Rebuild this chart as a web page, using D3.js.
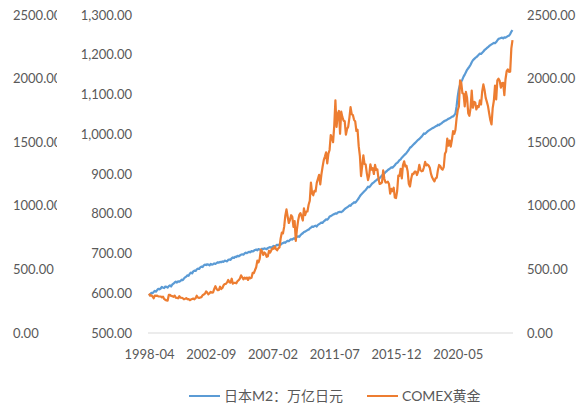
<!DOCTYPE html>
<html>
<head>
<meta charset="utf-8">
<script src="https://cdn.jsdelivr.net/npm/d3@7"></script>
<style>
  body { margin: 0; background: #fff; }
  text { font-family: Lato, "Noto Sans CJK SC", sans-serif; fill: #595959; font-size: 13px; }
</style>
</head>
<body>
<div class="chart"></div>
<script>
// categories: monthly, 1998-04 .. 2024-04
const months = d3.timeMonth.range(new Date(1998, 3, 1), new Date(2024, 4, 1)).map(d3.timeFormat("%Y-%m"));
const xTickLabels = ["1998-04", "2002-09", "2007-02", "2011-07", "2015-12", "2020-05"];
const m2Ticks = [500, 600, 700, 800, 900, 1000, 1100, 1200, 1300];
const goldTicks = [0, 500, 1000, 1500, 2000, 2500];
const seriesNames = ["日本M2：万亿日元", "COMEX黄金"];

// Japan M2, trillion yen
const m2 = [
  594, 597, 601, 600, 603, 606, 604, 608, 611,
  610, 612, 616, 614, 613, 617, 616, 614, 618, 620, 617, 622,
  624, 627, 629, 627, 630, 629, 631, 634, 633, 637, 640, 642,
  645, 644, 649, 652, 650, 655, 657, 656, 660, 662, 661, 665,
  667, 666, 670, 672, 671, 673, 672, 670, 674, 672, 673, 675,
  674, 676, 678, 677, 679, 678, 680, 679, 682, 681, 680, 684,
  685, 684, 688, 690, 689, 692, 691, 694, 693, 695, 697, 698,
  697, 700, 702, 701, 703, 704, 703, 706, 705, 707, 709, 710,
  708, 711, 710, 709, 712, 711, 713, 712, 711, 714, 715, 716,
  714, 717, 719, 718, 720, 722, 721, 723, 722, 725, 726, 728,
  727, 730, 732, 731, 734, 736, 735, 738, 737, 740, 742, 743,
  742, 746, 749, 751, 754, 755, 757, 759, 760, 763, 765, 768,
  767, 769, 770, 768, 772, 774, 776, 778, 777, 781, 783, 786,
  785, 788, 793, 794, 796, 798, 799, 801, 800, 803, 804, 805,
  804, 806, 809, 812, 814, 816, 818, 821, 820, 824, 826, 829,
  828, 831, 835, 839, 844, 848, 851, 854, 857, 860, 864, 868,
  867, 870, 874, 877, 879, 882, 884, 887, 886, 890, 893, 897,
  898, 901, 905, 907, 910, 912, 914, 917, 916, 919, 922, 926,
  928, 931, 935, 937, 941, 944, 947, 950, 953, 957, 961, 966,
  968, 971, 974, 977, 980, 983, 986, 988, 991, 994, 998, 1002,
  1001, 1004, 1007, 1009, 1011, 1013, 1015, 1016, 1018, 1020, 1021, 1024,
  1023, 1026, 1027, 1030, 1032, 1034, 1035, 1037, 1039, 1040, 1042, 1044,
  1045, 1048, 1052, 1070, 1095, 1114, 1125, 1132, 1138, 1145, 1150, 1156,
  1162, 1166, 1170, 1175, 1181, 1186, 1189, 1192, 1194, 1197, 1200, 1203,
  1202, 1205, 1208, 1212, 1214, 1217, 1219, 1222, 1224, 1226, 1228, 1230,
  1229, 1232, 1236, 1240, 1241, 1242, 1243, 1241, 1244, 1243, 1245, 1247,
  1248, 1252, 1258, 1262
];

// COMEX gold, USD/oz
const gold = [
  309, 294, 296, 288, 273, 294, 292, 294, 288,
  287, 287, 280, 286, 268, 261, 256, 255, 299, 300, 292, 290,
  284, 294, 277, 276, 273, 289, 277, 277, 273, 265, 269, 274,
  265, 267, 258, 263, 267, 271, 265, 273, 293, 279, 275, 279,
  282, 297, 302, 309, 327, 318, 304, 313, 324, 317, 319, 347,
  368, 347, 336, 339, 364, 346, 354, 375, 385, 386, 398, 417,
  400, 396, 427, 388, 394, 394, 391, 408, 415, 428, 453, 438,
  422, 436, 428, 436, 417, 437, 430, 434, 473, 470, 495, 517,
  569, 556, 582, 655, 643, 614, 633, 624, 599, 604, 647, 632,
  651, 665, 662, 680, 660, 650, 666, 673, 743, 789, 783, 834,
  923, 972, 916, 865, 888, 926, 913, 834, 880, 724, 816, 884,
  928, 942, 916, 884, 980, 927, 955, 955, 1008, 1040, 1182, 1097,
  1083, 1118, 1113, 1180, 1213, 1244, 1169, 1248, 1307, 1359, 1387, 1421,
  1333, 1410, 1439, 1556, 1536, 1500, 1628, 1829, 1620, 1722, 1746, 1566,
  1740, 1697, 1669, 1664, 1559, 1604, 1622, 1692, 1776, 1720, 1713, 1676,
  1664, 1588, 1598, 1469, 1393, 1234, 1314, 1396, 1328, 1324, 1253, 1202,
  1240, 1326, 1284, 1296, 1250, 1322, 1282, 1287, 1210, 1172, 1176, 1184,
  1279, 1213, 1183, 1184, 1190, 1172, 1095, 1133, 1115, 1142, 1065, 1061,
  1116, 1238, 1235, 1291, 1215, 1321, 1350, 1309, 1316, 1272, 1173, 1152,
  1211, 1251, 1249, 1268, 1268, 1242, 1269, 1322, 1283, 1271, 1275, 1303,
  1345, 1318, 1325, 1316, 1299, 1253, 1224, 1206, 1192, 1215, 1222, 1282,
  1321, 1313, 1292, 1284, 1305, 1409, 1427, 1529, 1472, 1513, 1465, 1519,
  1587, 1566, 1596, 1687, 1751, 1781, 1986, 1968, 1886, 1879, 1781, 1895,
  1850, 1728, 1708, 1768, 1905, 1771, 1817, 1813, 1757, 1784, 1776, 1828,
  1796, 1900, 1954, 1911, 1848, 1817, 1782, 1726, 1672, 1640, 1768, 1826,
  1945, 1836, 1986, 1999, 1982, 1929, 1965, 1966, 1870, 1995, 2058, 2072,
  2053, 2054, 2238, 2303
];

const width = 588, height = 407;
const plot = { left: 148, right: 513, top: 15, bottom: 333 };

const svg = d3.select(".chart").append("svg")
  .attr("width", width)
  .attr("height", height);

const x = d3.scalePoint().domain(months).range([plot.left + 1, plot.right - 0.5]);
const yM2 = d3.scaleLinear().domain([500, 1300]).range([plot.bottom, plot.top]);
const yGold = d3.scaleLinear().domain([0, 2500]).range([plot.bottom, plot.top]);

// clipped duplicate of the gold axis at the far left
svg.append("clipPath").attr("id", "leftClip")
  .append("rect").attr("x", 0).attr("y", 0).attr("width", 57).attr("height", height);

const farLeft = svg.append("g")
  .attr("clip-path", "url(#leftClip)")
  .append("g")
  .call(d3.axisRight(yGold).tickValues(goldTicks).tickFormat(d3.format(".2f")).tickSize(0).tickPadding(13));

// primary axis (M2)
const leftAxis = svg.append("g")
  .attr("transform", `translate(${plot.left},0)`)
  .call(d3.axisLeft(yM2).tickValues(m2Ticks).tickFormat(d3.format(",.2f")).tickSize(0).tickPadding(16));

// secondary axis (gold)
const rightAxis = svg.append("g")
  .attr("transform", `translate(${plot.right},0)`)
  .call(d3.axisRight(yGold).tickValues(goldTicks).tickFormat(d3.format(".2f")).tickSize(0).tickPadding(14));

// category axis
const bottomAxis = svg.append("g")
  .attr("transform", `translate(0,${plot.bottom})`)
  .call(d3.axisBottom(x).tickValues(xTickLabels).tickSize(0).tickPadding(17));

[farLeft, leftAxis, rightAxis, bottomAxis].forEach(a => {
  a.select(".domain").remove();
  a.selectAll("text").attr("fill", "#595959").style("font-size", "13px");
});

svg.append("line")
  .attr("x1", plot.left).attr("x2", plot.right)
  .attr("y1", plot.bottom).attr("y2", plot.bottom)
  .attr("stroke", "#d9d9d9").attr("stroke-width", 1);

const colors = ["#5b9bd5", "#ed7d31"];

const lineM2 = d3.line().x((d, i) => x(months[i])).y(d => yM2(d));
const lineGold = d3.line().x((d, i) => x(months[i])).y(d => yGold(d));

svg.append("path")
  .attr("d", lineM2(m2))
  .attr("fill", "none")
  .attr("stroke", colors[0])
  .attr("stroke-width", 2.2)
  .attr("stroke-linejoin", "round");

svg.append("path")
  .attr("d", lineGold(gold))
  .attr("fill", "none")
  .attr("stroke", colors[1])
  .attr("stroke-width", 2.2)
  .attr("stroke-linejoin", "round");

// legend
const legend = svg.append("g").attr("class", "legend");
const legendX = [189, 367];
seriesNames.forEach((name, i) => {
  legend.append("line")
    .attr("x1", legendX[i]).attr("x2", legendX[i] + 31)
    .attr("y1", 396).attr("y2", 396)
    .attr("stroke", colors[i]).attr("stroke-width", 2);
  legend.append("text")
    .attr("x", legendX[i] + 35)
    .attr("y", 396)
    .attr("dy", "0.35em")
    .style("font-size", "14px")
    .text(name);
});
</script>
</body>
</html>
